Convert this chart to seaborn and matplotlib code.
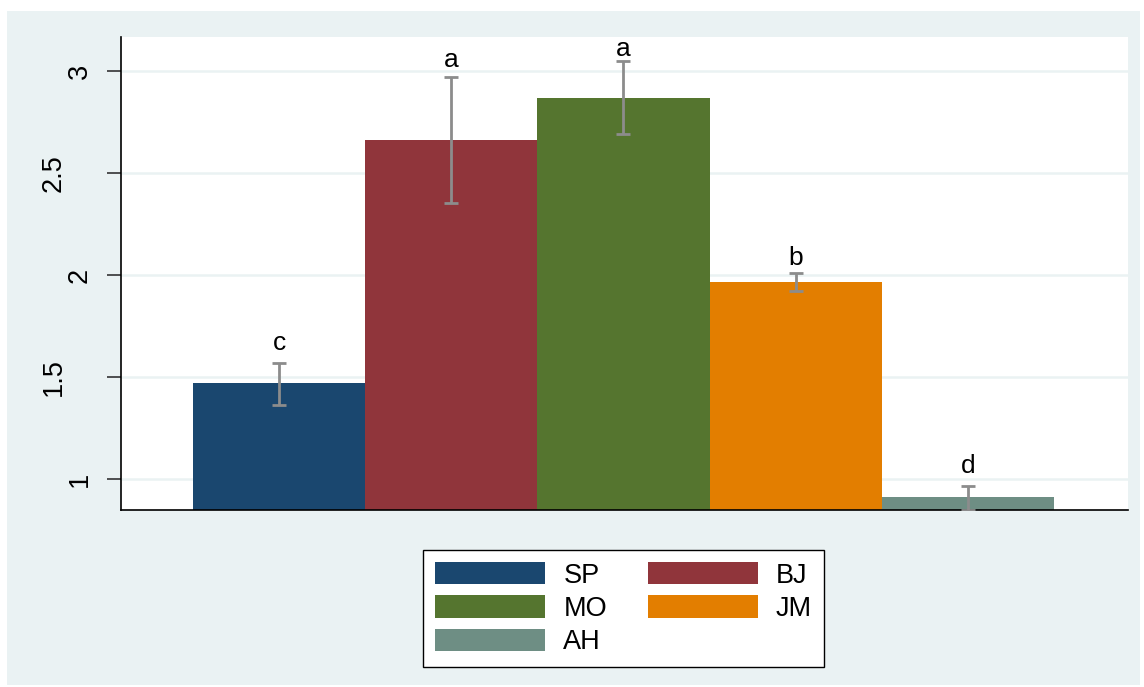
import numpy as np
import pandas as pd
import matplotlib
matplotlib.use("Agg")
import matplotlib.pyplot as plt
import matplotlib.transforms as mtransforms
import seaborn as sns
from matplotlib.patches import Rectangle

# datos
grupos = ["SP", "BJ", "MO", "JM", "AH"]
medias = [1.47, 2.662, 2.868, 1.966, 0.912]
err_inf = [1.363, 2.353, 2.691, 1.922, 0.848]
err_sup = [1.569, 2.970, 3.049, 2.010, 0.966]
letras = ["c", "a", "a", "b", "d"]
letra_y = [1.632, 3.02, 3.074, 2.049, 1.03]
colores = ["#1a476f", "#90353b", "#55752f", "#e37e00", "#6e8e84"]
ticks_y = [1, 1.5, 2, 2.5, 3]
ticks_txt = ["1", "1.5", "2", "2.5", "3"]

df = pd.DataFrame({"grupo": grupos, "media": medias})

sns.set_style("white")
plt.rcParams["font.family"] = ["Liberation Sans", "DejaVu Sans"]
plt.rcParams["text.color"] = "black"

fondo = "#eaf2f3"
fig = plt.figure(figsize=(11.44, 6.87), dpi=100, facecolor="white")
fig.patches.append(Rectangle((7 / 1144, 1 - 685 / 687), (1140 - 7) / 1144, (685 - 11) / 687,
                             transform=fig.transFigure, facecolor=fondo, edgecolor="none", zorder=-10))

ax = fig.add_axes([121 / 1144, 1 - 510 / 687, (1128 - 121) / 1144, (510 - 37) / 687])
ax.set_facecolor("white")

sns.barplot(data=df, x="grupo", y="media", hue="grupo", palette=colores,
            width=1.0, dodge=False, legend=False, ax=ax, saturation=1,
            linewidth=0, edgecolor="none", zorder=2)

# barras de error
x = np.arange(len(grupos))
med = np.array(medias)
yerr = [med - np.array(err_inf), np.array(err_sup) - med]
ax.errorbar(x, med, yerr=yerr, fmt="none", ecolor="#8c8c8c", elinewidth=2,
            capsize=5, capthick=2, zorder=3, clip_on=True)

# letras de significancia
for xi, l, ly in zip(x, letras, letra_y):
    ax.text(xi, ly, l, ha="center", va="baseline", fontsize=19, color="black")

ax.set_ylim(0.848, 3.167)
ax.set_xlim(-0.918, 4.93)
ax.set_yticks(ticks_y)
ax.set_yticklabels([])
ax.set_xticks([])
ax.set_xlabel("")
ax.set_ylabel("")
ax.yaxis.grid(True, color=fondo, linewidth=1.8, zorder=0)
ax.set_axisbelow(True)
ax.tick_params(axis="y", length=10, width=1.2, color="#333333", left=True)
for s in ["top", "right"]:
    ax.spines[s].set_visible(False)
for s in ["left", "bottom"]:
    ax.spines[s].set_color("black")
    ax.spines[s].set_linewidth(1.2)

# etiquetas del eje y a mano (las largas quedan mas a la izquierda, como en Stata)
trans = mtransforms.blended_transform_factory(ax.transAxes, ax.transData)
for v, t in zip(ticks_y, ticks_txt):
    dx = -28 if len(t) == 1 else -54
    off = mtransforms.ScaledTranslation(dx / 100, 0, fig.dpi_scale_trans)
    ax.text(0, v, t, rotation=90, ha="right", va="center", fontsize=19.5,
            color="black", transform=trans + off)

# leyenda en orden por filas: SP BJ / MO JM / AH
orden = [0, 2, 4, 1, 3]
handles = [Rectangle((0, 0), 1, 1, facecolor=colores[i], edgecolor="none") for i in orden]
etiquetas = [grupos[i] for i in orden]
leg = fig.legend(handles, etiquetas, loc="center", bbox_to_anchor=(0.545, 0.114), ncol=2,
                 fontsize=19.5, handlelength=4.06, handleheight=0.89, handletextpad=0.66,
                 columnspacing=1.5, labelspacing=0.25, fancybox=False, frameon=True,
                 framealpha=1, borderpad=0.45)
for t in leg.get_texts():
    t.set_color("black")
leg.get_frame().set_edgecolor("black")
leg.get_frame().set_linewidth(1.0)
leg.get_frame().set_facecolor("white")

fig.savefig("out.png", dpi=100, facecolor="white")
